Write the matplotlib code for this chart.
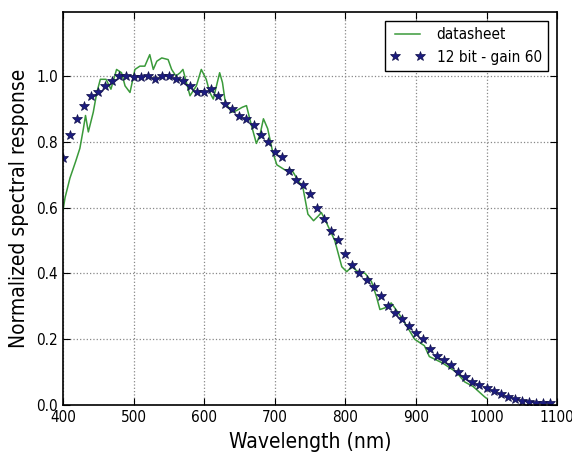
import matplotlib
matplotlib.use("Agg")
import matplotlib.pyplot as plt

plt.rcParams['font.family'] = ['DejaVu Sans']
plt.rcParams['font.stretch'] = 'condensed'

# datasheet curve (wavelength nm, normalized response)
ds_wl = [400, 403, 410, 418, 424, 429, 432, 436, 443, 448, 453, 461, 468, 476,
         483, 488, 495, 502, 509, 516, 523, 528, 533, 540, 549, 554, 560, 566,
         570, 575, 580, 589, 596, 603, 608, 613, 622, 626, 630, 639, 646, 654,
         660, 667, 674, 679, 684, 690, 697, 703, 714, 724, 731, 740, 747, 755,
         762, 766, 772, 785, 795, 802, 809, 818, 828, 837, 844, 849, 856, 865,
         875, 887, 898, 912, 919, 938, 957, 969, 981, 997, 1000]
ds_val = [0.59, 0.63, 0.69, 0.74, 0.78, 0.84, 0.88, 0.83, 0.89, 0.95, 0.99, 0.99,
          0.96, 1.02, 1.01, 0.97, 0.95, 1.02, 1.03, 1.03, 1.065, 1.02, 1.045,
          1.055, 1.05, 1.02, 1.00, 1.01, 1.02, 0.98, 0.94, 0.97, 1.02, 0.99,
          0.95, 0.93, 1.01, 0.98, 0.92, 0.89, 0.895, 0.905, 0.91, 0.85, 0.795,
          0.82, 0.87, 0.84, 0.77, 0.73, 0.715, 0.715, 0.69, 0.66, 0.58, 0.56,
          0.575, 0.585, 0.56, 0.50, 0.42, 0.405, 0.42, 0.405, 0.40, 0.375, 0.33,
          0.29, 0.295, 0.31, 0.28, 0.24, 0.20, 0.18, 0.147, 0.127, 0.10, 0.07,
          0.056, 0.025, 0.02]

# measured, 12 bit - gain 60
m_wl = list(range(400, 1100, 10))
m_val = [0.75, 0.82, 0.87, 0.91, 0.94, 0.95, 0.97, 0.985, 1.00, 1.00,
         0.997, 0.997, 1.00, 0.99, 1.00, 1.00, 0.99, 0.985, 0.97, 0.95,
         0.95, 0.96, 0.94, 0.915, 0.90, 0.878, 0.87, 0.85, 0.82, 0.80,
         0.77, 0.755, 0.71, 0.685, 0.67, 0.64, 0.60, 0.565, 0.53, 0.50,
         0.46, 0.425, 0.40, 0.38, 0.36, 0.33, 0.30, 0.28, 0.26, 0.24,
         0.22, 0.20, 0.17, 0.15, 0.137, 0.12, 0.10, 0.086, 0.071, 0.061,
         0.05, 0.043, 0.033, 0.025, 0.018, 0.013, 0.01, 0.007, 0.005, 0.005]

fig = plt.figure(figsize=(5.72, 4.57), dpi=100)
ax = fig.add_axes([0.110, 0.114, 0.864, 0.860])

ax.plot(ds_wl, ds_val, color='#3a9a3a', linewidth=1.1, label='datasheet')
ax.plot(m_wl, m_val, linestyle='none', marker='*', markersize=7.5,
        color='#1c1c80', markeredgecolor='#10104a', markeredgewidth=0.5,
        label='12 bit - gain 60')

ax.set_xlim(400, 1100)
ax.set_ylim(0, 1.195)
ax.set_xticks(range(400, 1101, 100))
ax.set_yticks([0.0, 0.2, 0.4, 0.6, 0.8, 1.0])
ax.set_yticklabels(['0.0', '0.2', '0.4', '0.6', '0.8', '1.0'])
ax.tick_params(direction='in', top=True, right=True, labelsize=11, length=5)
ax.grid(True, color='#888888', linestyle=':', linewidth=0.9)
for s in ax.spines.values():
    s.set_linewidth(1.2)

ax.set_xlabel('Wavelength (nm)', fontsize=15, labelpad=5)
ax.set_ylabel('Normalized spectral response', fontsize=15, labelpad=5)

leg = ax.legend(loc='upper right', numpoints=2, fontsize=11, fancybox=False,
                framealpha=1, edgecolor='black', borderaxespad=0.6,
                handlelength=2.2)
leg.get_frame().set_linewidth(1.0)

plt.savefig('out.png', dpi=100)
